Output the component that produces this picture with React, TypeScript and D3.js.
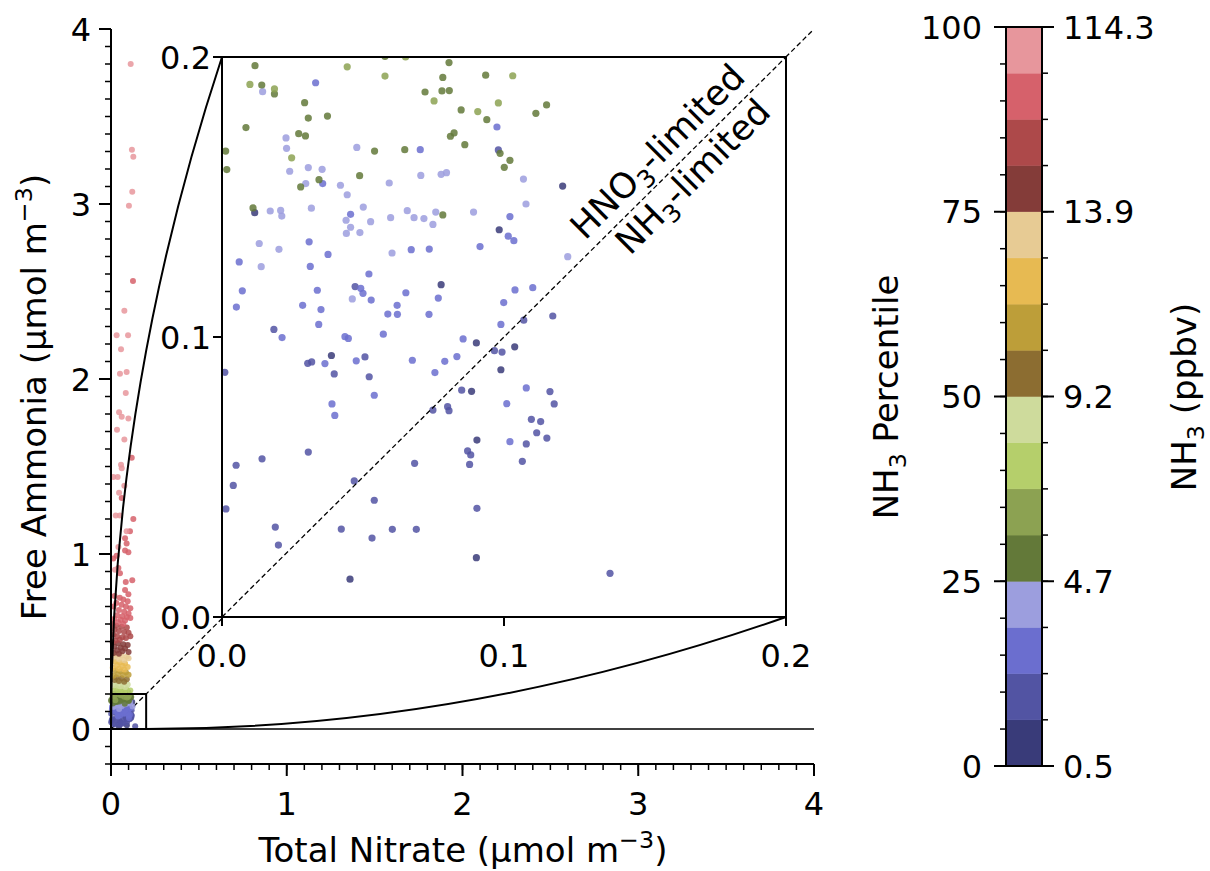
import React from 'react';
import * as d3 from 'd3';

// ---------- axis / tick definitions ----------
const mainMajorTicks = [0, 1, 2, 3, 4];
const insetTicks = [0, 0.1, 0.2];
const cbPercentTicks = [0, 25, 50, 75, 100];
const cbPpbvLabels = ['0.5', '4.7', '9.2', '13.9', '114.3'];

// 16-step discrete colormap (NH3 percentile bins of 6.25)
const bandColors = [
  '#393b79', '#5254a3', '#6b6ecf', '#9c9ede',
  '#637939', '#8ca252', '#b5cf6b', '#cedb9c',
  '#8c6d31', '#bd9e39', '#e7ba52', '#e7cb94',
  '#843c39', '#ad494a', '#d6616b', '#e7969c',
];

// ---------- data: [total nitrate, free ammonia] grouped by NH3 percentile ----------
const pct03: [number, number][] = [
  [0.0116, 0.1444], [0.1208, 0.1539], [0.0983, 0.1383], [0.0777, 0.1187], [0.0902, 0.0979],
  [0.1038, 0.0965], [0.0388, 0.0934], [0.0989, 0.0883], [0.0885, 0.0806], [0.0904, 0.0632],
  [0.0902, 0.0212], [0.0454, 0.0135],
];
const pct09: [number, number][] = [
  [0.098, 0.1668], [0.0472, 0.118], [0.0184, 0.1027], [0.0966, 0.0951], [0.0993, 0.0946],
  [0.107, 0.106], [0.1173, 0.1075], [0.0304, 0.0906], [0.0318, 0.0911], [0.0507, 0.0929],
  [0.001, 0.0874], [0.0398, 0.0868], [0.0522, 0.0858], [0.085, 0.081], [0.1163, 0.0805],
  [0.1178, 0.0761], [0.0748, 0.0739], [0.08, 0.0751], [0.0805, 0.0737], [0.1097, 0.0706],
  [0.113, 0.0698], [0.1116, 0.0658], [0.1152, 0.0639], [0.1079, 0.0618], [0.0871, 0.0593],
  [0.0882, 0.0579], [0.0878, 0.0545], [0.1065, 0.0556], [0.0683, 0.0549], [0.0306, 0.0589],
  [0.0142, 0.0565], [0.005, 0.0542], [0.004, 0.047], [0.0469, 0.0486], [0.0014, 0.0386],
  [0.054, 0.0417], [0.0904, 0.0388], [0.0189, 0.0321], [0.02, 0.0257], [0.0423, 0.0314],
  [0.0532, 0.0282], [0.0604, 0.0313], [0.0689, 0.0313], [0.1376, 0.0156],
];
const pct16: [number, number][] = [
  [0.0332, 0.1908], [0.0975, 0.175], [0.0703, 0.1669], [0.0357, 0.1548], [0.0456, 0.1438],
  [0.1021, 0.143], [0.1015, 0.136], [0.1035, 0.1344], [0.0915, 0.1323], [0.1039, 0.1168],
  [0.1102, 0.1176], [0.0309, 0.134], [0.0061, 0.1268], [0.0313, 0.1252], [0.0376, 0.1295],
  [0.0671, 0.1312], [0.0735, 0.1314], [0.0521, 0.1225], [0.0072, 0.1165], [0.0338, 0.1167],
  [0.0492, 0.1174], [0.05, 0.1156], [0.0652, 0.1158], [0.0767, 0.1139], [0.0051, 0.1107],
  [0.0286, 0.1113], [0.0351, 0.1098], [0.0529, 0.1132], [0.0588, 0.1082], [0.0621, 0.1113],
  [0.0622, 0.1081], [0.0734, 0.1081], [0.0999, 0.1123], [0.0989, 0.1045], [0.0343, 0.1045],
  [0.0213, 0.0998], [0.0436, 0.1001], [0.0448, 0.0995], [0.0572, 0.101], [0.0855, 0.0993],
  [0.0365, 0.0905], [0.0476, 0.0915], [0.0675, 0.0917], [0.079, 0.0913], [0.0833, 0.093],
  [0.0755, 0.0873], [0.054, 0.0792], [0.1079, 0.0818], [0.101, 0.0762], [0.039, 0.0761],
  [0.04, 0.072], [0.1021, 0.0626],
];
const pct22: [number, number][] = [
  [0.0144, 0.1876], [0.0227, 0.1711], [0.0229, 0.1674], [0.0478, 0.1677], [0.024, 0.1592],
  [0.0306, 0.1605], [0.0355, 0.1599], [0.0297, 0.1548], [0.042, 0.1542], [0.0444, 0.1508],
  [0.0593, 0.155], [0.0705, 0.1577], [0.0777, 0.1581], [0.0796, 0.1587], [0.0171, 0.145],
  [0.0208, 0.1452], [0.0212, 0.1432], [0.0317, 0.146], [0.0501, 0.1464], [0.044, 0.1417],
  [0.0527, 0.1412], [0.0456, 0.1392], [0.0441, 0.137], [0.0489, 0.1373], [0.0598, 0.1426],
  [0.0657, 0.1451], [0.0681, 0.1426], [0.0716, 0.1423], [0.0758, 0.1446], [0.0748, 0.1402],
  [0.0892, 0.1446], [0.1069, 0.1564], [0.1078, 0.1475], [0.1226, 0.1287], [0.0132, 0.1334],
  [0.0202, 0.1313], [0.0139, 0.1251], [0.0603, 0.13], [0.0462, 0.1136],
];
const pct28: [number, number][] = [
  [0.0117, 0.1969], [0.0805, 0.198], [0.0578, 0.2002], [0.0141, 0.19], [0.0186, 0.1868],
  [0.0783, 0.1927], [0.072, 0.1875], [0.078, 0.1879], [0.0806, 0.188], [0.0935, 0.1935],
  [0.0293, 0.1837], [0.0306, 0.1782], [0.0374, 0.1789], [0.0085, 0.1748], [0.0848, 0.1811],
  [0.0939, 0.1776], [0.0272, 0.1726], [0.0296, 0.1718], [0.081, 0.1717], [0.0823, 0.1729],
  [0.0861, 0.1687], [0.0013, 0.1664], [0.0541, 0.1664], [0.0648, 0.1669], [0.0986, 0.1656],
  [0.1021, 0.1631], [0.1001, 0.1606], [0.0017, 0.1598], [0.0344, 0.1562], [0.0279, 0.1536],
  [0.0488, 0.1576], [0.011, 0.1461], [0.0783, 0.1436], [0.1151, 0.1829], [0.1113, 0.1799],
  [0.025, 0.205], [0.07, 0.212], [0.1, 0.208],
];
const pct34: [number, number][] = [
  [0.0444, 0.1965], [0.0651, 0.2], [0.0099, 0.1902], [0.0186, 0.1886], [0.0578, 0.1932],
  [0.0752, 0.1843], [0.1031, 0.1933], [0.0907, 0.1805], [0.098, 0.1836], [0.0247, 0.164],
  [0.045, 0.21], [0.085, 0.203],
];
const pct41: [number, number][] = [
  [0.03, 0.235], [0.06, 0.23], [0.09, 0.225], [0.045, 0.215], [0.075, 0.21], [0.015, 0.22],
  [0.11, 0.22],
];
const pct47: [number, number][] = [
  [0.035, 0.265], [0.065, 0.26], [0.095, 0.255], [0.05, 0.245], [0.02, 0.25], [0.08, 0.24],
];
const pct53: [number, number][] = [
  [0.03, 0.295], [0.06, 0.29], [0.09, 0.285], [0.045, 0.275], [0.075, 0.27], [0.02, 0.28],
];
const pct59: [number, number][] = [
  [0.025, 0.335], [0.055, 0.33], [0.085, 0.325], [0.04, 0.315], [0.07, 0.31], [0.015, 0.305],
  [0.1, 0.31],
];
const pct66: [number, number][] = [
  [0.02, 0.385], [0.05, 0.38], [0.08, 0.375], [0.035, 0.365], [0.065, 0.36], [0.095, 0.355],
  [0.01, 0.35], [0.045, 0.345], [0.075, 0.34],
];
const pct72: [number, number][] = [
  [0.03, 0.425], [0.06, 0.42], [0.09, 0.415], [0.015, 0.41], [0.045, 0.4], [0.075, 0.395],
  [0.1, 0.405],
];
const pct78: [number, number][] = [
  [0.01, 0.495], [0.04, 0.49], [0.07, 0.485], [0.095, 0.48], [0.02, 0.47], [0.055, 0.465],
  [0.08, 0.46], [0.035, 0.45], [0.065, 0.445], [0.1, 0.44], [0.015, 0.435], [0.045, 0.43],
];
const pct84: [number, number][] = [
  [0.01, 0.6], [0.03, 0.59], [0.06, 0.585], [0.09, 0.58], [0.02, 0.57], [0.045, 0.56],
  [0.075, 0.555], [0.1, 0.55], [0.015, 0.54], [0.035, 0.53], [0.065, 0.525], [0.085, 0.52],
  [0.05, 0.51], [0.025, 0.505], [0.11, 0.53],
];
const pct90: [number, number][] = [
  [0.125, 2.56], [0.118, 1.55], [0.061, 1.32], [0.127, 1.2], [0.108, 1.13], [0.089, 1.06],
  [0.08, 1.09], [0.08, 1.02], [0.099, 1.01], [0.032, 0.99], [0.013, 0.975], [0.042, 0.92],
  [0.051, 0.89], [0.084, 0.84], [0.121, 0.85], [0.08, 0.795], [0.099, 0.77], [0.02, 0.76],
  [0.05, 0.75], [0.07, 0.74], [0.095, 0.73], [0.03, 0.72], [0.06, 0.71], [0.085, 0.7],
  [0.11, 0.69], [0.015, 0.7], [0.045, 0.68], [0.075, 0.67], [0.1, 0.66], [0.035, 0.65],
  [0.065, 0.645], [0.09, 0.64], [0.02, 0.63], [0.055, 0.625], [0.08, 0.62], [0.11, 0.635],
  [0.04, 0.61], [0.07, 0.6],
];
const pct97: [number, number][] = [
  [0.112, 3.8], [0.119, 3.31], [0.127, 3.27], [0.121, 3.07], [0.102, 2.99], [0.076, 2.39],
  [0.032, 2.25], [0.097, 2.25], [0.057, 2.17], [0.051, 2.03], [0.089, 2.04], [0.084, 1.92],
  [0.046, 1.81], [0.061, 1.785], [0.099, 1.775], [0.034, 1.71], [0.076, 1.655], [0.057, 1.51],
  [0.061, 1.49], [0.013, 1.44], [0.038, 1.44], [0.076, 1.39], [0.046, 1.35], [0.027, 1.22],
  [0.051, 1.22], [0.089, 1.13], [0.042, 1.04], [0.023, 0.91],
];

const groups: { pct: number; pts: [number, number][] }[] = [
  { pct: 3, pts: pct03 }, { pct: 9, pts: pct09 }, { pct: 16, pts: pct16 }, { pct: 22, pts: pct22 },
  { pct: 28, pts: pct28 }, { pct: 34, pts: pct34 }, { pct: 41, pts: pct41 }, { pct: 47, pts: pct47 },
  { pct: 53, pts: pct53 }, { pct: 59, pts: pct59 }, { pct: 66, pts: pct66 }, { pct: 72, pts: pct72 },
  { pct: 78, pts: pct78 }, { pct: 84, pts: pct84 }, { pct: 90, pts: pct90 }, { pct: 97, pts: pct97 },
];

const FONT = 'DejaVu Sans, Verdana, sans-serif';
const FS = 32;   // tick labels
const LFS = 34;  // axis labels
const AFS = 35;  // annotations

export default function App() {
  const W = 1210, H = 871;
  const x = d3.scaleLinear().domain([0, 4]).range([111, 814]);
  const y = d3.scaleLinear().domain([-0.2, 4]).range([764, 29]);
  const xi = d3.scaleLinear().domain([0, 0.2]).range([222, 786]);
  const yi = d3.scaleLinear().domain([0, 0.2]).range([617, 57]);
  const yc = d3.scaleLinear().domain([0, 100]).range([766, 27]);
  const color = d3.scaleQuantize<string>().domain([0, 100]).range(bandColors);
  const cbX0 = 1006, cbX1 = 1042;

  const xMinor = d3.range(0, 41).map((d) => d / 10);
  const yMinor = d3.range(-2, 41).map((d) => d / 10);

  // zoom connector curves
  const bottomCurve = d3.path();
  bottomCurve.moveTo(x(0.2), y(0));
  bottomCurve.quadraticCurveTo((x(0.2) + xi(0.2)) / 2, y(0), xi(0.2), yi(0));
  const topCurve = d3.path();
  topCurve.moveTo(x(0), y(0));
  topCurve.quadraticCurveTo(x(0), (y(0) + yi(0.2)) / 2, xi(0), yi(0.2));

  const allPts = groups.flatMap((g) => g.pts.map((p) => ({ x: p[0], y: p[1], c: color(g.pct) })));

  const supText = (main: string, sup: string, tail: string, fs: number) => (
    <>
      {main}
      <tspan dy={-14} fontSize={fs * 0.7}>{sup}</tspan>
      <tspan dy={14}>{tail}</tspan>
    </>
  );

  return (
    <svg width={W} height={H} style={{ position: 'absolute', left: 0, top: 0, background: '#fff' }}
      fontFamily={FONT}>
      <defs>
        <clipPath id="insetClip">
          <rect x={xi(0)} y={yi(0.2)} width={xi(0.2) - xi(0)} height={yi(0) - yi(0.2)} />
        </clipPath>
      </defs>
      <rect width={W} height={H} fill="#fff" />

      {/* ---------- main axes ---------- */}
      <line x1={x(0)} x2={x(4)} y1={y(0)} y2={y(0)} stroke="#000" strokeWidth={1.5} />
      <line x1={x(0)} y1={y(0)} x2={x(4)} y2={y(4)} stroke="#000" strokeWidth={1.3} strokeDasharray="5,3" />
      {allPts.map((p, i) => (
        <circle key={'m' + i} cx={x(p.x)} cy={y(p.y)} r={3} fill={p.c} fillOpacity={0.85} />
      ))}
      <rect x={x(0)} y={y(0.2)} width={x(0.2) - x(0)} height={y(0) - y(0.2)} fill="none" stroke="#000" strokeWidth={2} />
      <path d={bottomCurve.toString()} fill="none" stroke="#000" strokeWidth={2} />
      <path d={topCurve.toString()} fill="none" stroke="#000" strokeWidth={2} />

      {/* spines */}
      <line x1={x(0)} x2={x(0)} y1={y(-0.2)} y2={y(4)} stroke="#000" strokeWidth={2} />
      <line x1={x(0)} x2={x(4)} y1={y(-0.2)} y2={y(-0.2)} stroke="#000" strokeWidth={2} />
      {xMinor.map((t) => (
        <line key={'xm' + t} x1={x(t)} x2={x(t)} y1={y(-0.2)} y2={y(-0.2) + 6} stroke="#000" strokeWidth={1.5} />
      ))}
      {yMinor.map((t) => (
        <line key={'ym' + t} x1={x(0) - 6} x2={x(0)} y1={y(t)} y2={y(t)} stroke="#000" strokeWidth={1.5} />
      ))}
      {mainMajorTicks.map((t) => (
        <g key={'xt' + t}>
          <line x1={x(t)} x2={x(t)} y1={y(-0.2)} y2={y(-0.2) + 12} stroke="#000" strokeWidth={2} />
          <text x={x(t)} y={815} fontSize={FS} textAnchor="middle">{t}</text>
        </g>
      ))}
      {mainMajorTicks.map((t) => (
        <g key={'yt' + t}>
          <line x1={x(0) - 12} x2={x(0)} y1={y(t)} y2={y(t)} stroke="#000" strokeWidth={2} />
          <text x={91} y={y(t) + 11.5} fontSize={FS} textAnchor="end">{t}</text>
        </g>
      ))}
      <text x={463} y={862} fontSize={LFS} textAnchor="middle">
        {supText('Total Nitrate (µmol m', '−3', ')', LFS)}
      </text>
      <text transform={`translate(46,397) rotate(-90)`} fontSize={LFS} textAnchor="middle">
        {supText('Free Ammonia (µmol m', '−3', ')', LFS)}
      </text>

      {/* ---------- inset ---------- */}
      <rect x={xi(0)} y={yi(0.2)} width={xi(0.2) - xi(0)} height={yi(0) - yi(0.2)} fill="#fff" />
      <g clipPath="url(#insetClip)">
        {allPts.map((p, i) => (
          <circle key={'i' + i} cx={xi(p.x)} cy={yi(p.y)} r={3.6} fill={p.c} fillOpacity={0.85} />
        ))}
      </g>
      <line x1={xi(0)} y1={yi(0)} x2={xi(0.2)} y2={yi(0.2)} stroke="#000" strokeWidth={1.3} strokeDasharray="5,3" />
      <rect x={xi(0)} y={yi(0.2)} width={xi(0.2) - xi(0)} height={yi(0) - yi(0.2)} fill="none" stroke="#000" strokeWidth={2} />
      {insetTicks.map((t) => (
        <g key={'it' + t}>
          <line x1={xi(t)} x2={xi(t)} y1={yi(0)} y2={yi(0) + 9} stroke="#000" strokeWidth={2} />
          <text x={xi(t)} y={667} fontSize={FS} textAnchor="middle">{t.toFixed(1)}</text>
          <line x1={xi(0) - 9} x2={xi(0)} y1={yi(t)} y2={yi(t)} stroke="#000" strokeWidth={2} />
          <text x={211} y={yi(t) + 11.5} fontSize={FS} textAnchor="end">{t.toFixed(1)}</text>
        </g>
      ))}
      <text transform={`translate(${xi(0.1574)},${yi(0.1632)}) rotate(-45)`} fontSize={AFS} textAnchor="middle">
        HNO<tspan dy={8} fontSize={AFS * 0.7}>3</tspan><tspan dy={-8}>-limited</tspan>
      </text>
      <text transform={`translate(${xi(0.1699)},${yi(0.1543)}) rotate(-45)`} fontSize={AFS} textAnchor="middle">
        NH<tspan dy={8} fontSize={AFS * 0.7}>3</tspan><tspan dy={-8}>-limited</tspan>
      </text>

      {/* ---------- colorbar ---------- */}
      {bandColors.map((c, i) => (
        <rect key={'cb' + i} x={cbX0} width={cbX1 - cbX0} y={yc((i + 1) * 6.25)}
          height={yc(i * 6.25) - yc((i + 1) * 6.25)} fill={c} stroke={c} strokeWidth={0.5} />
      ))}
      <rect x={cbX0} y={yc(100)} width={cbX1 - cbX0} height={yc(0) - yc(100)} fill="none" stroke="#000" strokeWidth={2} />
      {d3.range(0, 101, 5).map((t) => (
        <line key={'cl' + t} x1={cbX0 - 6} x2={cbX0} y1={yc(t)} y2={yc(t)} stroke="#000" strokeWidth={1.5} />
      ))}
      {d3.range(0, 17).map((i) => (
        <line key={'cr' + i} x1={cbX1} x2={cbX1 + 6} y1={yc(i * 6.25)} y2={yc(i * 6.25)} stroke="#000" strokeWidth={1.5} />
      ))}
      {cbPercentTicks.map((t, i) => (
        <g key={'cbt' + t}>
          <line x1={cbX0 - 12} x2={cbX0} y1={yc(t)} y2={yc(t)} stroke="#000" strokeWidth={2} />
          <line x1={cbX1} x2={cbX1 + 12} y1={yc(t)} y2={yc(t)} stroke="#000" strokeWidth={2} />
          <text x={982} y={yc(t) + 11.5} fontSize={FS} textAnchor="end">{t}</text>
          <text x={1063} y={yc(t) + 11.5} fontSize={FS} textAnchor="start">{cbPpbvLabels[i]}</text>
        </g>
      ))}
      <text transform={`translate(898,397) rotate(-90)`} fontSize={LFS} textAnchor="middle">
        NH<tspan dy={8} fontSize={LFS * 0.7}>3</tspan><tspan dy={-8}> Percentile</tspan>
      </text>
      <text transform={`translate(1196,397) rotate(-90)`} fontSize={LFS} textAnchor="middle">
        NH<tspan dy={8} fontSize={LFS * 0.7}>3</tspan><tspan dy={-8}> (ppbv)</tspan>
      </text>
    </svg>
  );
}
